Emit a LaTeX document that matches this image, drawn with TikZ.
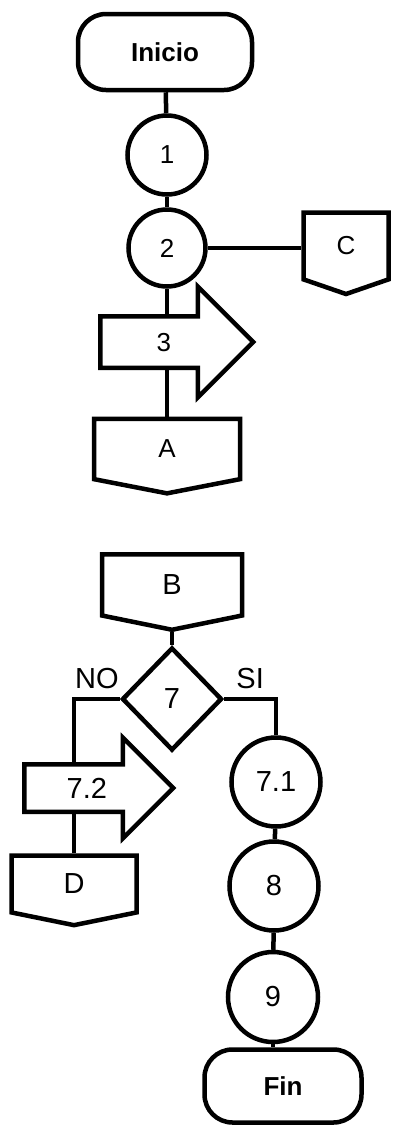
\documentclass[tikz,border=0pt]{standalone}
\usepackage{fontspec}
\setmainfont{Liberation Sans}
\usetikzlibrary{positioning,shapes.geometric,shapes.symbols,shapes.arrows,backgrounds}

\tikzset{
  base/.style={draw=black, line width=4.5pt, fill=white, inner sep=0pt,
    font=\fontsize{26}{29}\selectfont},
  lowtext/.style={font=\fontsize{29}{32}\selectfont},
  termbox/.style={base, rectangle, rounded corners=28pt,
    minimum width=#1, minimum height=76pt, font=\fontsize{26}{29}\selectfont\bfseries},
  procnode/.style={base, circle, minimum size=#1},
  pagecon/.style={base, signal, signal to=south, signal from=nowhere,
    signal pointer angle=#1},
  outarrow/.style={base, single arrow, single arrow tip angle=90,
    single arrow head indent=0pt, anchor=tail, text depth=0pt},
  decide/.style={base, diamond, minimum width=100pt, minimum height=103pt},
  link/.style={line width=4.5pt},
  branchlbl/.style={font=\fontsize{29}{32}\selectfont, above=5pt}
}

\begin{document}
\begin{tikzpicture}[x=1pt, y=-1pt]
  \useasboundingbox (0,0) rectangle (392,1128);

  % upper part
  \node[termbox=174pt] (inicio) at (165,52) {Inicio};
  \node[procnode=79pt] (p1) at (167,155) {1};
  \node[procnode=77pt] (p2) at (167,248) {2};
  \node[pagecon=142, minimum width=85pt, minimum height=70pt] (conC) at (346,246) {C};
  \node[outarrow, minimum height=153pt, text height=19pt, inner ysep=14pt,
    single arrow head extend=29.5pt] (p3) at (98,342) {3};
  \node[pagecon=158, minimum width=146pt, minimum height=62pt] (conA) at (167,449) {A};

  % lower part
  \node[pagecon=157, lowtext, minimum width=140pt, minimum height=63pt] (conB) at (172,585) {B};
  \node[decide, lowtext] (p7) at (172,699) {7};
  \node[outarrow, lowtext, minimum height=149pt, text height=21pt, inner ysep=11pt,
    single arrow head extend=26.5pt] (p72) at (22,788) {7.2};
  \node[pagecon=157, lowtext, minimum width=125pt, minimum height=59pt] (conD) at (74,884) {D};
  \node[procnode=89pt, lowtext] (p71) at (276,782) {7.1};
  \node[procnode=89pt, lowtext] (p8) at (274,886) {8};
  \node[procnode=90pt, lowtext] (p9) at (273,997) {9};
  \node[termbox=157pt, minimum height=73pt] (fin) at (283,1086) {Fin};

  % connectors behind the shapes
  \begin{scope}[on background layer]
    \draw[link] (inicio) -- (p1);
    \draw[link] (p1) -- (p2);
    \draw[link] (p2.east) -- (p2.east -| conC.west);
    \draw[link] (p2.south) -- (conA.north);
    \draw[link] (conB.south) -- (p7.north);
    \draw[link] (p7.west) -| node[pos=0.25, branchlbl] {NO} (conD.north);
    \draw[link] (p7.east) -| node[pos=0.25, branchlbl] {SI} (p71.north);
    \draw[link] (p71) -- (p8);
    \draw[link] (p8) -- (p9);
    \draw[link] (p9.south) -- (p9.south |- fin.north);
  \end{scope}
\end{tikzpicture}
\end{document}
